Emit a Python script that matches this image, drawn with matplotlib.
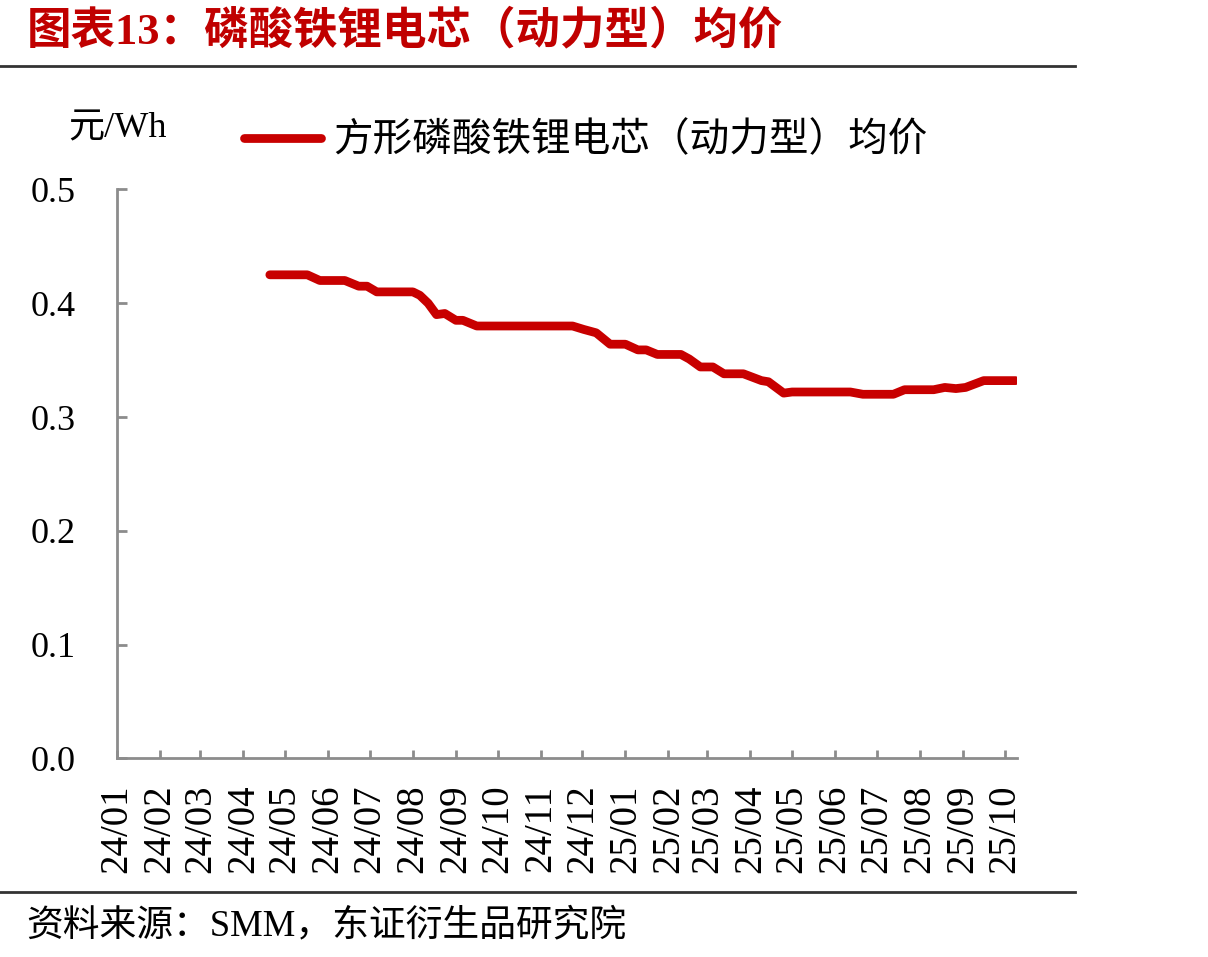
import matplotlib
matplotlib.use("Agg")
import matplotlib.pyplot as plt
import numpy as np
import pandas as pd
from matplotlib.lines import Line2D

plt.rcParams['font.family'] = ['Liberation Serif', 'Noto Sans CJK SC']

# data
dates = ["2024-04-20", "2024-05-17", "2024-05-26", "2024-06-13", "2024-06-23",
         "2024-06-29", "2024-07-06", "2024-07-27", "2024-08-01", "2024-08-06",
         "2024-08-12", "2024-08-18", "2024-08-24", "2024-09-01", "2024-09-06",
         "2024-09-16", "2024-11-24", "2024-12-02", "2024-12-11", "2024-12-21",
         "2025-01-01", "2025-01-10", "2025-01-16", "2025-01-24", "2025-02-10",
         "2025-02-16", "2025-02-24", "2025-03-05", "2025-03-13", "2025-03-27",
         "2025-04-09", "2025-04-14", "2025-04-25", "2025-05-01", "2025-06-12",
         "2025-06-21", "2025-07-13", "2025-07-21", "2025-08-11", "2025-08-19",
         "2025-08-27", "2025-09-03", "2025-09-16", "2025-10-09"]
prices = [0.425, 0.425, 0.420, 0.420, 0.415,
          0.415, 0.410, 0.410, 0.410, 0.407,
          0.400, 0.390, 0.391, 0.385, 0.385,
          0.380, 0.380, 0.377, 0.374, 0.364,
          0.364, 0.359, 0.359, 0.355, 0.355,
          0.351, 0.344, 0.344, 0.338, 0.338,
          0.332, 0.331, 0.321, 0.322, 0.322,
          0.320, 0.320, 0.324, 0.324, 0.326,
          0.325, 0.326, 0.332, 0.332]
series_name = "方形磷酸铁锂电芯（动力型）均价"
y_ticks = [0.0, 0.1, 0.2, 0.3, 0.4, 0.5]
month_ticks = pd.date_range("2024-01-01", "2025-10-01", freq="MS")
month_labels = [d.strftime("%y/%m") for d in month_ticks]

red = "#C80000"
axis_gray = "#8C8C8C"

fig = plt.figure(figsize=(12.08, 9.57), dpi=100)
ax = fig.add_axes([0.0969, 0.2076, 0.7450, 0.5944])

x = pd.to_datetime(dates)
ax.plot(x, prices, color=red, linewidth=6.3, solid_capstyle="round",
        solid_joinstyle="round", label=series_name)

ax.set_xlim(pd.Timestamp("2024-01-01"), pd.Timestamp("2025-10-10"))
ax.set_ylim(0, 0.5)
ax.set_yticks(y_ticks)
ax.set_yticklabels([f"{v:.1f}" for v in y_ticks])
ax.set_xticks(month_ticks)
ax.set_xticklabels(month_labels, rotation=90, va="top", ha="center")

for s in ["top", "right"]:
    ax.spines[s].set_visible(False)
for s in ["left", "bottom"]:
    ax.spines[s].set_color(axis_gray)
    ax.spines[s].set_linewidth(2)

ax.tick_params(axis="y", direction="in", length=7, width=2, color=axis_gray,
               labelsize=26, pad=30)
ax.tick_params(axis="x", direction="in", length=6, width=2, color=axis_gray,
               labelsize=28, pad=19)

# unit and legend
fig.text(0.097, 0.865, "元/Wh", fontsize=26, ha="center", va="center")
fig.legend(handles=[Line2D([], [], color=red, linewidth=6.3,
                           solid_capstyle="round")],
           labels=[series_name], loc="center left",
           bbox_to_anchor=(0.202, 0.852), frameon=False, fontsize=28.5,
           handlelength=1.95, handletextpad=0.3, borderpad=0, borderaxespad=0)

# title, rules, source
fig.text(0.022, 0.968, "图表13：磷酸铁锂电芯（动力型）均价", fontsize=32,
         color="#C00000", fontweight="bold", ha="left", va="center")
fig.add_artist(Line2D([0, 0.890], [0.931, 0.931], transform=fig.transFigure,
                      color="#333333", linewidth=2))
fig.add_artist(Line2D([0, 0.890], [0.068, 0.068], transform=fig.transFigure,
                      color="#333333", linewidth=2))
fig.text(0.022, 0.032, "资料来源：SMM，东证衍生品研究院", fontsize=26.5,
         ha="left", va="center")

fig.savefig("out.png", dpi=100)
